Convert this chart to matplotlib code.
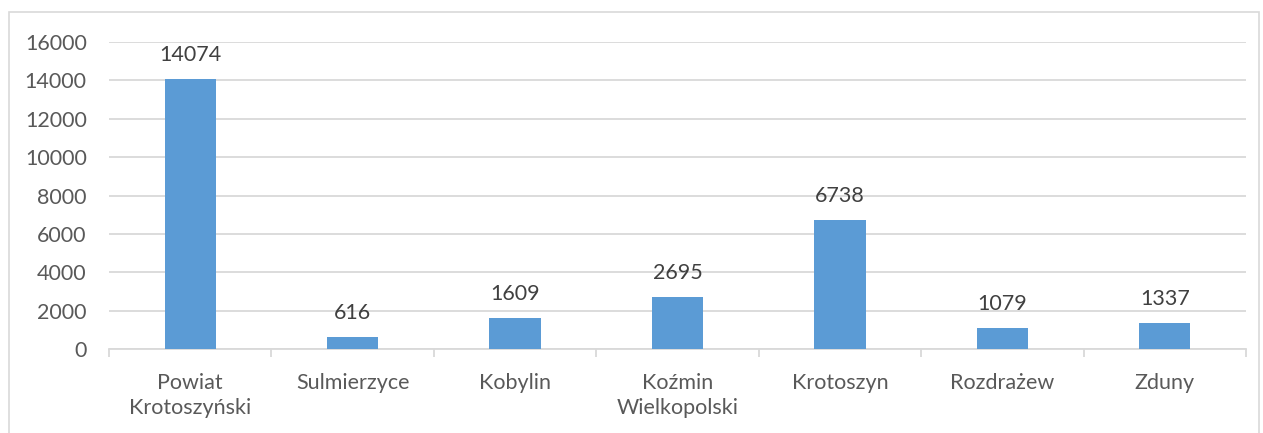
import matplotlib
matplotlib.use("Agg")
import matplotlib.pyplot as plt
from matplotlib.patches import Rectangle

categories = ["Powiat\nKrotoszyński", "Sulmierzyce", "Kobylin", "Koźmin\nWielkopolski",
              "Krotoszyn", "Rozdrażew", "Zduny"]
values = [14074, 616, 1609, 2695, 6738, 1079, 1337]
yticks = [0, 2000, 4000, 6000, 8000, 10000, 12000, 14000, 16000]

plt.rcParams['font.family'] = ['Lato', 'DejaVu Sans']

W, H = 1263, 433
FS = 15.5
fig = plt.figure(figsize=(W / 100, H / 100), dpi=100)
ax = fig.add_axes([109 / W, 1 - 349 / H, (1246 - 109) / W, (349 - 42) / H])

x = list(range(len(categories)))
ax.bar(x, values, width=0.315, color="#5B9BD5", zorder=3)
for xi, v in zip(x, values):
    ax.annotate(str(v), (xi, v), xytext=(0, 10), textcoords="offset points",
                ha="center", va="bottom", fontsize=FS, color="#404040")

ax.set_xlim(-0.5, len(categories) - 0.5)
ax.set_ylim(0, 16000)
ax.set_yticks(yticks)
ax.set_yticklabels([str(t) for t in yticks], fontsize=FS, color="#595959")
ax.yaxis.grid(True, color="#D9D9D9", linewidth=1.3, zorder=0)
ax.tick_params(axis="y", length=0, pad=16)

ax.set_xticks(x)
ax.set_xticklabels(categories, fontsize=FS, color="#595959", linespacing=1.35)
ax.set_xticks([i - 0.5 for i in range(len(categories) + 1)], minor=True)
ax.tick_params(axis="x", which="major", length=0, pad=17)
ax.tick_params(axis="x", which="minor", length=6, color="#D9D9D9", width=1.3)

for s in ["top", "right", "left"]:
    ax.spines[s].set_visible(False)
ax.spines["bottom"].set_color("#D9D9D9")
ax.spines["bottom"].set_linewidth(1.3)

fig.patches.append(Rectangle((8.5 / W, -0.1), (1259 - 8.5) / W, 1.1 - 12.5 / H,
                             transform=fig.transFigure, fill=False,
                             edgecolor="#D9D9D9", linewidth=1.2))

fig.savefig("out.png", dpi=100)
